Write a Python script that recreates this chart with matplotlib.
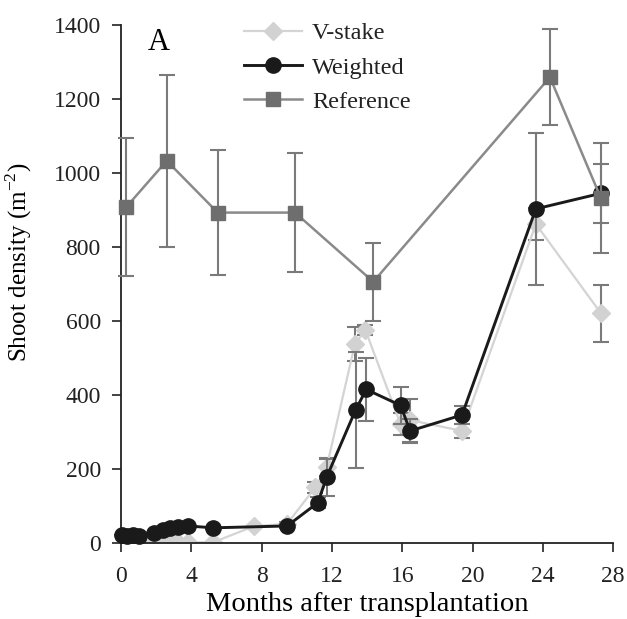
import matplotlib
matplotlib.use("Agg")
import matplotlib.pyplot as plt
from matplotlib.lines import Line2D

plt.rcParams['font.family'] = ['Liberation Serif', 'DejaVu Serif']
plt.rcParams['mathtext.fontset'] = 'custom'
plt.rcParams['mathtext.rm'] = 'Liberation Serif'

# --- data ---
w_x = [0.05, 0.35, 0.7, 1.0, 1.85, 2.4, 2.8, 3.25, 3.8, 5.25, 9.45, 11.2, 11.7,
       13.35, 13.95, 15.9, 16.45, 19.4, 23.6, 27.3]
w_y = [22, 20, 21, 20, 26, 35, 40, 44, 46, 41, 46, 109, 178,
       360, 415, 372, 303, 346, 903, 945]
w_e = [0, 0, 0, 0, 0, 0, 0, 0, 0, 3, 5, 15, 50,
       157, 85, 50, 32, 25, 205, 79]

v_x = [0.05, 0.35, 0.7, 1.0, 1.85, 2.4, 2.8, 3.25, 3.8, 5.25, 7.55, 9.45, 11.05,
       11.7, 13.3, 13.9, 15.9, 16.45, 19.4, 23.6, 27.3]
v_y = [2, 2, 2, 2, 2, 2, 2, 2, 2, 2, 45, 52, 150,
       205, 537, 576, 322, 332, 303, 862, 621]
v_e = [0, 0, 0, 0, 0, 0, 0, 0, 0, 0, 0, 5, 15,
       25, 46, 13, 30, 58, 18, 43, 77]

r_x = [0.3, 2.6, 5.5, 9.9, 14.35, 24.4, 27.3]
r_y = [908, 1033, 893, 893, 706, 1259, 932]
r_e = [186, 232, 170, 160, 106, 129, 148]

series_names = ['V-stake', 'Weighted', 'Reference']
x_ticks = [0, 4, 8, 12, 16, 20, 24, 28]
y_ticks = [0, 200, 400, 600, 800, 1000, 1200, 1400]

fig = plt.figure(figsize=(6.27, 6.19), dpi=100)
ax = fig.add_axes([0.193, 0.1228, 0.785, 0.8368])

ecol = '#7a7a7a'
styles = [
    dict(color='#d4d4d4', lw=1.6, marker='D', ms=9, mfc='#d2d2d2', mec='#d2d2d2'),
    dict(color='#1a1a1a', lw=2.1, marker='o', ms=11, mfc='#1a1a1a', mec='#1a1a1a'),
    dict(color='#8a8a8a', lw=1.8, marker='s', ms=10, mfc='#6e6e6e', mec='#6e6e6e'),
]
ax.errorbar(v_x, v_y, yerr=v_e, ecolor=ecol, elinewidth=1.5,
            capsize=6, capthick=1.5, zorder=2, **styles[0])
ax.errorbar(w_x, w_y, yerr=w_e, ecolor=ecol, elinewidth=1.5,
            capsize=6, capthick=1.5, zorder=3, clip_on=False, **styles[1])
ax.errorbar(r_x, r_y, yerr=r_e, ecolor=ecol, elinewidth=1.5,
            capsize=6, capthick=1.5, zorder=4, clip_on=False, **styles[2])

ax.set_xlim(0, 28)
ax.set_ylim(0, 1400)
ax.set_xticks(x_ticks)
ax.set_yticks(y_ticks)
for s in ['top', 'right']:
    ax.spines[s].set_visible(False)
for s in ['left', 'bottom']:
    ax.spines[s].set_linewidth(1.3)
    ax.spines[s].set_color('#222222')
ax.tick_params(direction='out', length=6.5, width=1.2, labelsize=17, colors='#222222')
ax.tick_params(axis='y', pad=8)
ax.tick_params(axis='x', pad=10)

ax.set_xlabel('Months after transplantation', fontsize=20.5, labelpad=4)
ax.set_ylabel('Shoot density (m$^{-2}$)', fontsize=18)
ax.yaxis.set_label_coords(-0.177, 0.542)

ax.text(0.055, 0.994, 'A', transform=ax.transAxes, fontsize=22, va='top', ha='left')

handles = [Line2D([], [], **st) for st in styles]
leg = ax.legend(handles, series_names, loc='upper left', bbox_to_anchor=(0.25, 1.005),
                frameon=False, fontsize=17.5, handlelength=2.4, handletextpad=0.4,
                labelspacing=0.5, borderpad=0, borderaxespad=0)
for t in leg.get_texts():
    t.set_color('#222222')

fig.savefig('out.png', dpi=100)
